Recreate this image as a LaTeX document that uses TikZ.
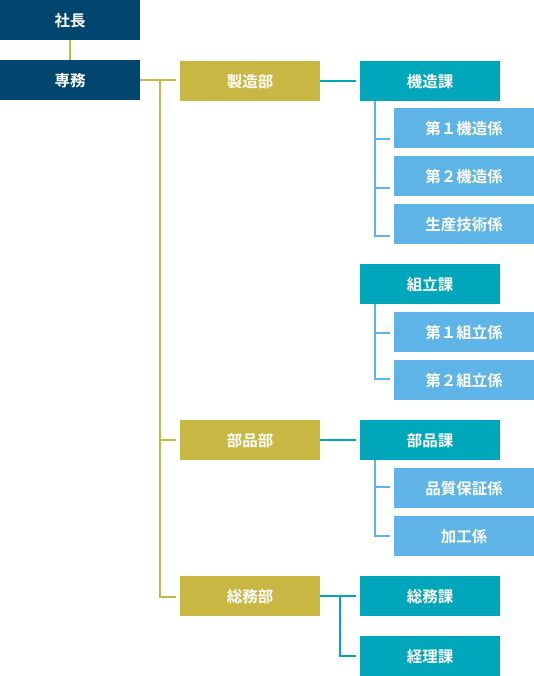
\documentclass[tikz,border=0pt]{standalone}
\usepackage{fontspec}
\setmainfont{Noto Sans CJK JP}[BoldFont={Noto Sans CJK JP Bold}]
\definecolor{navy}{HTML}{00466E}
\definecolor{olive}{HTML}{C9B743}
\definecolor{teal}{HTML}{00A7BA}
\definecolor{sky}{HTML}{5EB4E6}
\tikzset{
  box/.style={anchor=north west, minimum width=140pt, minimum height=40pt, inner sep=0pt, text=white, font=\fontsize{15.5}{18}\selectfont\bfseries},
  exec/.style={box, fill=navy},
  dept/.style={box, fill=olive},
  sect/.style={box, fill=teal},
  unit/.style={box, fill=sky},
  oline/.style={draw=olive, line width=2pt},
  tline/.style={draw=teal, line width=2pt},
  sline/.style={draw=sky, line width=2pt},
}
\begin{document}
\begin{tikzpicture}[x=1pt,y=-1pt]
\useasboundingbox (0,0) rectangle (534,676);
% executives
\node[exec] (shacho) at (0,0) {社長};
\node[exec] (senmu) at (0,60) {専務};
% departments
\node[dept] (seizo) at (180,61) {製造部};
\node[dept] (buhin) at (180,420) {部品部};
\node[dept] (somu) at (180,576) {総務部};
% sections
\node[sect] (kizo) at (360,61) {機造課};
\node[sect] (kumi) at (360,264) {組立課};
\node[sect] (buhinka) at (360,420) {部品課};
\node[sect] (somuka) at (360,576) {総務課};
\node[sect] (keiri) at (360,636) {経理課};
% units
\node[unit] (k1) at (394,108) {第１機造係};
\node[unit] (k2) at (394,156) {第２機造係};
\node[unit] (k3) at (394,204) {生産技術係};
\node[unit] (g1) at (394,312) {第１組立係};
\node[unit] (g2) at (394,360) {第２組立係};
\node[unit] (h1) at (394,468) {品質保証係};
\node[unit] (h2) at (394,516) {加工係};
% coordinates
\coordinate (trunk) at (160,80.5);
\coordinate (trunkend) at (160,597);
% exec line
\draw[oline] (shacho.south) -- (senmu.north);
% olive tree
\draw[oline] (senmu.east |- trunk) -- ([xshift=-4pt]seizo.west |- trunk);
\draw[oline] (trunk) -- (trunkend) -- ([xshift=-4pt]somu.west |- trunkend);
\draw[oline] (trunk |- buhin.west) -- ([xshift=-4pt]buhin.west);
% teal links
\draw[tline] (seizo.east) -- ([xshift=-4pt]kizo.west);
\draw[tline] (buhin.east) -- ([xshift=-4pt]buhinka.west);
\draw[tline] (somu.east) -- ([xshift=-4pt]somuka.west);
\coordinate (sj) at (340,596);
\draw[tline] (sj |- somu.east) -- (sj |- keiri.west) -- ([xshift=-4pt]keiri.west);
% sky links
\coordinate (kx) at (375,0);
\draw[sline] (kx |- kizo.south) -- (kx |- 0,236) -- ([xshift=-4pt]k3.west |- 0,236);
\draw[sline] (kx |- 0,139) -- ([xshift=-4pt]k1.west |- 0,139);
\draw[sline] (kx |- 0,188) -- ([xshift=-4pt]k2.west |- 0,188);
\draw[sline] (kx |- kumi.south) -- (kx |- 0,379) -- ([xshift=-4pt]g2.west |- 0,379);
\draw[sline] (kx |- 0,333) -- ([xshift=-4pt]g1.west |- 0,333);
\draw[sline] (kx |- buhinka.south) -- (kx |- 0,536) -- ([xshift=-4pt]h2.west |- 0,536);
\draw[sline] (kx |- 0,487) -- ([xshift=-4pt]h1.west |- 0,487);
\end{tikzpicture}
\end{document}
